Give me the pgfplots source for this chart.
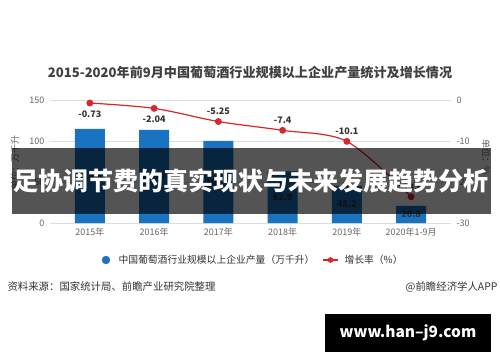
\documentclass[border=0pt]{standalone}
\usepackage{pgfplots}
\pgfplotsset{compat=1.18}
\usepackage{fontspec}
\setmainfont{Noto Sans CJK SC}
\definecolor{barblue}{HTML}{1A73C0}
\definecolor{linered}{HTML}{D9262C}
\definecolor{gridgray}{HTML}{DDDDDD}
\definecolor{ticktext}{HTML}{666666}
\definecolor{titletext}{HTML}{404040}
\definecolor{labeltext}{HTML}{333333}
\begin{document}
\begin{tikzpicture}
\useasboundingbox (0pt,0pt) rectangle (500pt,362pt);
\fill[white] (0pt,0pt) rectangle (500pt,362pt);
\begin{axis}[
  at={(50pt,139pt)}, anchor=south west,
  width=401pt, height=123pt, scale only axis,
  xmin=-0.62, xmax=5.62, ymin=0, ymax=150,
  ytick={0,50,100,150},
  xtick={0,...,5},
  xticklabels={2015年,2016年,2017年,2018年,2019年,2020年1-9月},
  axis line style={draw=none},
  tick style={draw=none},
  ymajorgrids, grid style={gridgray, line width=0.8pt},
  /pgf/number format/assume math mode=true,
  ticklabel style={font=\fontsize{9}{10}\selectfont, text=ticktext},
  xticklabel style={yshift=-1pt},
  yticklabel style={xshift=-2pt},
  clip=false,
]
\addplot[ybar, fill=barblue, draw=none, bar width=30pt] coordinates {(0,114.8) (1,113.7) (2,100.1) (3,62.9) (4,45.2) (5,20.8)};
\addplot[draw=none, nodes near coords, point meta=explicit symbolic,
  every node near coord/.style={anchor=center, font=\fontsize{9}{10}\selectfont\bfseries, text=labeltext}]
  coordinates {(0,57.4)[114.8] (1,56.85)[113.7] (2,50.05)[100.1] (3,31.45)[62.9] (4,22.6)[45.2] (5,10.4)[20.8]};
\end{axis}
\begin{axis}[
  at={(50pt,139pt)}, anchor=south west,
  width=401pt, height=123pt, scale only axis,
  xmin=-0.62, xmax=5.62, ymin=-30, ymax=0,
  ytick={-30,-20,-10,0},
  axis x line=none,
  axis y line*=right,
  axis line style={draw=none},
  tick style={draw=none},
  /pgf/number format/assume math mode=true,
  ticklabel style={font=\fontsize{9}{10}\selectfont, text=ticktext},
  yticklabel style={xshift=2pt},
  clip=false,
]
\addplot[linered, smooth, line width=1.2pt, mark=*, mark size=2.8pt, mark options={fill=linered, draw=linered}]
  coordinates {(0,-0.73) (1,-2.04) (2,-5.25) (3,-7.4) (4,-10.1) (5,-23.6)};
\addplot[draw=none, nodes near coords, point meta=explicit symbolic,
  every node near coord/.style={anchor=north, yshift=-4pt, font=\fontsize{9}{10}\selectfont\bfseries, text=labeltext}]
  coordinates {(0,-0.73)[-0.73] (1,-2.04)[-2.04]};
\addplot[draw=none, nodes near coords, point meta=explicit symbolic,
  every node near coord/.style={anchor=south, yshift=3pt, font=\fontsize{9}{10}\selectfont\bfseries, text=labeltext}]
  coordinates {(2,-5.25)[-5.25] (3,-7.4)[-7.4] (4,-10.1)[-10.1] (5,-23.6)[-23.6]};
\end{axis}
\begin{scope}[x=1pt,y=1pt]
\node[font=\fontsize{13.1}{15}\selectfont\bfseries, text=titletext] at (250,289) {2015-2020年前9月中国葡萄酒行业规模以上企业产量统计及增长情况};
% axis titles
\node[rotate=90, font=\fontsize{9}{10}\selectfont, text=ticktext] at (15,200) {单位：万千升};
\node[rotate=-90, font=\fontsize{9}{10}\selectfont, text=ticktext] at (486,205) {单位：\%};
% banner overlay
\fill[black, opacity=0.67] (12,148) rectangle (491,214);
\node[font=\fontsize{25}{28}\selectfont\bfseries, text=white] at (251,181) {足协调节费的真实现状与未来发展趋势分析};
% legend
\fill[barblue] (106,102) circle (4.2);
\node[anchor=west, font=\fontsize{9.8}{11}\selectfont, text=labeltext] at (115,102) {中国葡萄酒行业规模以上企业产量（万千升）};
\draw[linered, line width=1.2pt] (323,102) -- (338,102);
\fill[linered] (330.5,102) circle (2.8);
\node[anchor=west, font=\fontsize{9.8}{11}\selectfont, text=labeltext] at (341,102) {增长率（\%）};
% source
\node[anchor=west, font=\fontsize{10.4}{12}\selectfont, text=labeltext] at (4,75) {资料来源：国家统计局、前瞻产业研究院整理};
\node[anchor=east, font=\fontsize{10.4}{12}\selectfont, text=labeltext] at (501,75) {@前瞻经济学人APP};
% url box
\fill[black] (325,10) rectangle (491,48);
\node[font=\fontsize{15.5}{17}\selectfont\bfseries, text=white] at (408,29) {www.han--j9.com};
\end{scope}
\end{tikzpicture}
\end{document}
